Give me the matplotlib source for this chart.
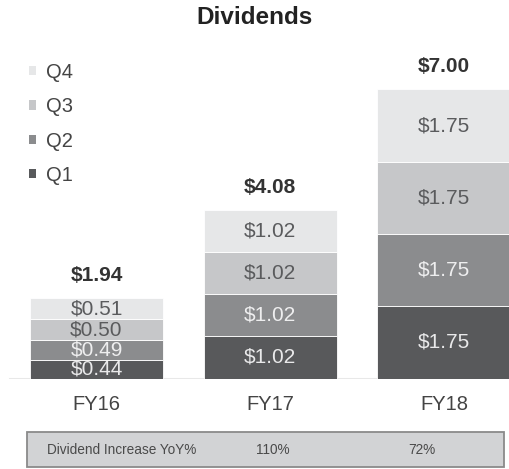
import matplotlib.pyplot as plt
from matplotlib.patches import Rectangle

plt.rcParams['font.family'] = ['Liberation Sans', 'DejaVu Sans']

years = ["FY16", "FY17", "FY18"]
quarters = ["Q1", "Q2", "Q3", "Q4"]
q1 = [0.44, 1.02, 1.75]
q2 = [0.49, 1.02, 1.75]
q3 = [0.50, 1.02, 1.75]
q4 = [0.51, 1.02, 1.75]

colors = ["#58595b", "#8b8c8e", "#c6c7c9", "#e6e7e8"]
text_colors = ["#e9e9ea", "#eeeeef", "#5a5b5d", "#5a5b5d"]

W, H = 509, 469
fig = plt.figure(figsize=(W / 100, H / 100), dpi=100)

# axes placed so that baseline sits at y=378.5 px, 41.3 px per dollar
ppu = 41.3
base_px = 378.5
ytop = 8.2
ax = fig.add_axes([0, (H - base_px) / H, 1, ytop * ppu / H])
ax.set_ylim(0, ytop)
ax.set_xlim(-96.5 / 173.75, (W - 96.5) / 173.75)

x = list(range(len(years)))
bottom = [0.0] * len(years)
handles = []
for series, name, c, tc in zip([q1, q2, q3, q4], quarters, colors, text_colors):
    bars = ax.bar(x, series, width=0.768, bottom=bottom, color=c,
                  edgecolor="white", linewidth=0.6, label=name)
    handles.append(bars)
    for xi, b, v in zip(x, bottom, series):
        ax.text(xi, b + v / 2, f"${v:.2f}", ha="center", va="center",
                fontsize=15, color=tc)
    bottom = [b + v for b, v in zip(bottom, series)]

totals = bottom
for xi, t in zip(x, totals):
    ax.annotate(f"${t:.2f}", (xi, t), xytext=(0, 16.5), textcoords="offset points",
                ha="center", va="center", fontsize=15, fontweight="bold",
                color="#333333")

ax.axhline(0, xmin=10 / W, xmax=1, color="#e8e8e8", linewidth=1.5, zorder=0)

ax.set_xticks(x)
ax.set_xticklabels(years, fontsize=14.5, color="#444444")
ax.tick_params(axis="x", length=0, pad=12)
ax.set_yticks([])
for s in ax.spines.values():
    s.set_visible(False)

leg = ax.legend(handles=handles[::-1], labels=quarters[::-1], loc="upper left",
                bbox_to_anchor=(29 / W, 1 - 63 / H), bbox_transform=fig.transFigure,
                frameon=False, fontsize=14.5, handlelength=0.34, handleheight=0.34,
                handletextpad=0.5, labelspacing=0.76, borderpad=0, borderaxespad=0)
for t in leg.get_texts():
    t.set_color("#444444")
for p in leg.get_patches():
    p.set_edgecolor("none")

fig.text(0.5, 1 - 17.5 / H, "Dividends", ha="center", va="center",
         fontsize=17.5, fontweight="bold", color="#222222")

# YoY table strip
fig.patches.append(Rectangle((27 / W, 1 - 467 / H), (504 - 27) / W, (467 - 432) / H,
                             transform=fig.transFigure, facecolor="#d2d3d5",
                             edgecolor="#8a8a8a", linewidth=1.3))
yoy = [f"{(totals[i] / totals[i - 1] - 1) * 100:.0f}%" for i in range(1, len(totals))]
fig.text(47 / W, 1 - 450 / H, "Dividend Increase YoY%", ha="left", va="center",
         fontsize=9.8, color="#4a4a4a")
for px, lab in zip([273, 422], yoy):
    fig.text(px / W, 1 - 450 / H, lab, ha="center", va="center",
             fontsize=9.8, color="#4a4a4a")

fig.savefig("out.png", dpi=100)
